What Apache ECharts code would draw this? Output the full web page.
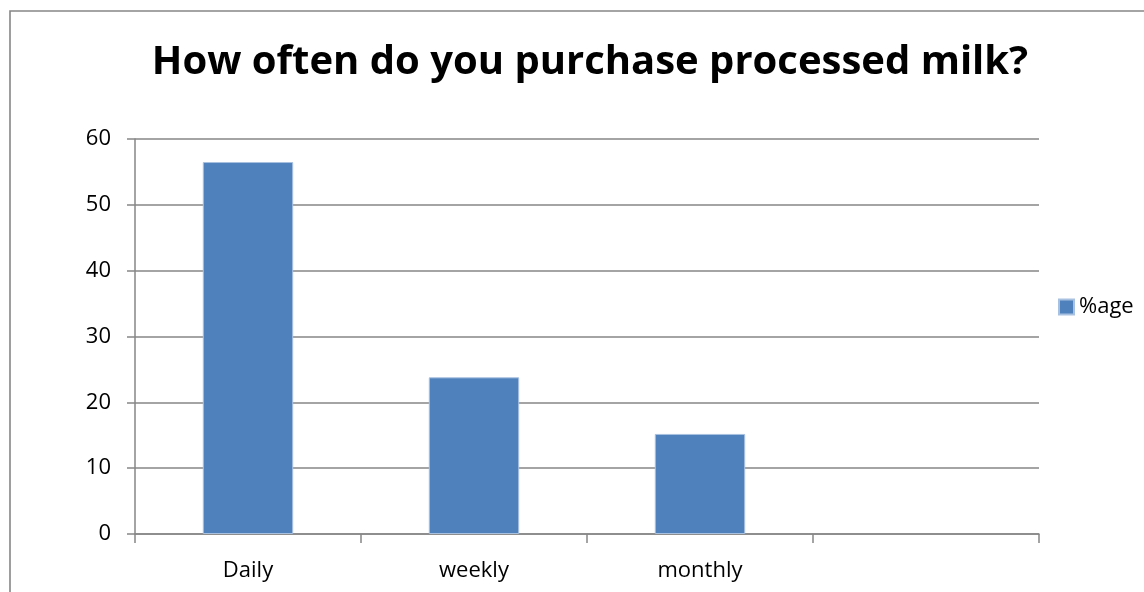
<!DOCTYPE html>
<html>
<head>
<meta charset="utf-8">
<style>
  html, body { margin: 0; padding: 0; background: #fff; }
  #chart { width: 1144px; height: 592px; }
</style>
<script src="https://cdn.jsdelivr.net/npm/echarts@6/dist/echarts.min.js"></script>
</head>
<body>
<div id="chart"></div>
<script>
// Purchase frequency of processed milk (percentage of respondents)
const titleText = 'How often do you purchase processed milk?';
const categories = ['Daily', 'weekly', 'monthly', ''];
const seriesName = '%age';
const percentages = [56.5, 23.8, 15.2, '-'];
const yTicks = { min: 0, max: 60, interval: 10 };

const FONT = '"Open Sans", "Noto Sans", sans-serif';
const GRAY = '#868686';

const chart = echarts.init(document.getElementById('chart'), null, { renderer: 'canvas' });

chart.setOption({
  backgroundColor: '#ffffff',
  animation: false,
  title: {
    text: titleText,
    left: 585,
    top: 38,
    textAlign: 'center',
    textStyle: { fontFamily: FONT, fontWeight: 'bold', fontSize: 40, color: '#000' }
  },
  graphic: [{
    type: 'rect',
    shape: { x: 10, y: 11, width: 1160, height: 620 },
    style: { fill: 'none', stroke: GRAY, lineWidth: 1.6 },
    silent: true,
    z: -1
  }],
  legend: {
    data: [seriesName],
    left: 1053,
    top: 291,
    itemWidth: 15,
    itemHeight: 15,
    icon: 'rect',
    textStyle: { fontFamily: FONT, fontSize: 22, color: '#000' }
  },
  grid: { left: 135, right: 105, top: 139, bottom: 58, containLabel: false },
  xAxis: {
    type: 'category',
    data: categories,
    boundaryGap: true,
    axisLine: { lineStyle: { color: GRAY, width: 1.5 } },
    axisTick: { show: true, length: 9, lineStyle: { color: GRAY, width: 1.5 } },
    axisLabel: { fontFamily: FONT, fontSize: 22, color: '#000', margin: 26 }
  },
  yAxis: {
    type: 'value',
    min: yTicks.min,
    max: yTicks.max,
    interval: yTicks.interval,
    axisLine: { show: true, lineStyle: { color: GRAY, width: 1.5 } },
    axisTick: { show: true, length: 8, lineStyle: { color: GRAY, width: 1.5 } },
    splitLine: { lineStyle: { color: GRAY, width: 1.5 } },
    axisLabel: { fontFamily: FONT, fontSize: 22, color: '#000', margin: 24 }
  },
  series: [{
    name: seriesName,
    type: 'bar',
    data: percentages,
    barWidth: '40%',
    itemStyle: { color: '#4F81BD', borderColor: '#a9c1e0', borderWidth: 1 }
  }]
});
</script>
</body>
</html>
